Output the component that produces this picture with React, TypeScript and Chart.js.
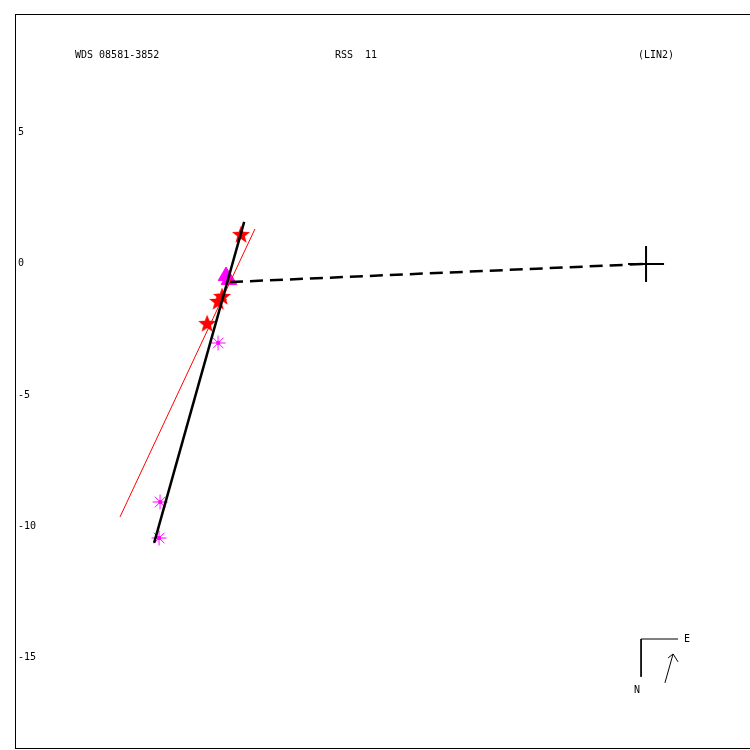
import React, { useEffect, useRef } from "react";
import { Chart, registerables } from "chart.js";

Chart.register(...registerables);

// Header texts
const headerTexts = ["WDS 08581-3852", "RSS  11", "(LIN2)"];

// Axis ranges (arcsec)
const xRange = [-24.04, 3.96];
const yRange = [-18.48, 9.52];
const yTickValues = [5, 0, -5, -10, -15];

// Observations: red stars
const starX = [-15.43, -16.15, -16.3, -16.72];
const starY = [1.1, -1.26, -1.45, -2.29];
// Observations: magenta triangles
const triX = [-16.0, -15.89];
const triY = [-0.46, -0.61];
// Observations: magenta asterisks
const astX = [-16.3, -18.51, -18.55];
const astY = [-3.01, -9.07, -10.44];

// Linear fit (black)
const fitX = [-15.31, -18.74];
const fitY = [1.6, -10.63];
// Previous solution (red thin)
const prevX = [-14.9, -20.04];
const prevY = [1.33, -9.64];
// Closest approach to primary (dashed)
const dashX = [-15.85, 0];
const dashY = [-0.69, 0];
// Primary
const primX = [0];
const primY = [0];

// Compass
const compassX = [1.22, -0.19, -0.19];
const compassY = [-14.29, -14.29, -15.73];
const arrowX = [0.72, 1.03];
const arrowY = [-15.96, -14.86];
const arrowHeadX = [0.84, 1.03, 1.22];
const arrowHeadY = [-15.01, -14.86, -15.16];
const compassLabels = ["E", "N"];
const compassLabelX = [1.56, -0.34];
const compassLabelY = [-14.29, -16.23];

const pts = (xs: number[], ys: number[]) => xs.map((x, i) => ({ x, y: ys[i] }));

function makeStar(): HTMLCanvasElement {
  const c = document.createElement("canvas");
  c.width = 20;
  c.height = 20;
  const ctx = c.getContext("2d")!;
  ctx.fillStyle = "#ff0000";
  ctx.beginPath();
  const R = 9.5, r = 4;
  for (let i = 0; i < 10; i++) {
    const a = -Math.PI / 2 + (i * Math.PI) / 5;
    const rr = i % 2 === 0 ? R : r;
    const px = 10 + rr * Math.cos(a);
    const py = 10 + rr * Math.sin(a);
    if (i === 0) ctx.moveTo(px, py);
    else ctx.lineTo(px, py);
  }
  ctx.closePath();
  ctx.fill();
  return c;
}

function makeAsterisk(): HTMLCanvasElement {
  const c = document.createElement("canvas");
  c.width = 18;
  c.height = 18;
  const ctx = c.getContext("2d")!;
  ctx.strokeStyle = "#ff00ff";
  ctx.fillStyle = "#ff00ff";
  ctx.lineWidth = 1;
  for (let i = 0; i < 4; i++) {
    const a = (i * Math.PI) / 4;
    ctx.beginPath();
    ctx.moveTo(9 - 7.5 * Math.cos(a), 9 - 7.5 * Math.sin(a));
    ctx.lineTo(9 + 7.5 * Math.cos(a), 9 + 7.5 * Math.sin(a));
    ctx.stroke();
  }
  ctx.beginPath();
  ctx.arc(9, 9, 2, 0, Math.PI * 2);
  ctx.fill();
  return c;
}

const FONT = '10px "DejaVu Sans Mono", monospace';

const overlayPlugin = {
  id: "overlay",
  afterDraw(chart: any) {
    const { ctx, chartArea, scales } = chart;
    ctx.save();
    // frame
    ctx.strokeStyle = "#000";
    ctx.lineWidth = 1;
    ctx.strokeRect(
      chartArea.left + 0.5,
      chartArea.top + 0.5,
      chartArea.right - chartArea.left,
      chartArea.bottom - chartArea.top - 1
    );
    ctx.fillStyle = "#000";
    ctx.font = FONT;
    ctx.textBaseline = "middle";
    ctx.textAlign = "left";
    const hx = [75, 335, 638];
    headerTexts.forEach((t, i) => ctx.fillText(t, hx[i], 55));
    ctx.textAlign = "center";
    compassLabels.forEach((t, i) => {
      ctx.fillText(
        t,
        scales.x.getPixelForValue(compassLabelX[i]),
        scales.y.getPixelForValue(compassLabelY[i])
      );
    });
    ctx.restore();
  },
};

export default function App() {
  const ref = useRef<HTMLCanvasElement>(null);
  useEffect(() => {
    const starImg = makeStar();
    const astImg = makeAsterisk();
    const lineDs = (data: any, color: string, width: number, order: number, dash: number[] = []) => ({
      type: "line" as const,
      data,
      borderColor: color,
      borderWidth: width,
      borderDash: dash,
      pointRadius: 0,
      showLine: true,
      fill: false,
      tension: 0,
      order,
    });
    const chart = new Chart(ref.current!, {
      type: "scatter",
      data: {
        datasets: [
          lineDs(pts(fitX, fitY), "#000000", 2.5, 1),
          lineDs(pts(prevX, prevY), "#ff0000", 1, 2),
          lineDs(pts(dashX, dashY), "#000000", 2.5, 3, [13, 7]),
          {
            data: pts(primX, primY),
            pointStyle: "cross",
            pointRadius: 18,
            borderColor: "#000",
            borderWidth: 2,
            order: 4,
          } as any,
          {
            data: pts(triX, triY),
            pointStyle: "triangle",
            pointRadius: 9,
            backgroundColor: "#ff00ff",
            borderColor: "#ff00ff",
            borderWidth: 1,
            order: 5,
          },
          {
            data: pts(starX, starY),
            pointStyle: starImg,
            order: 6,
          } as any,
          {
            data: pts(astX, astY),
            pointStyle: astImg,
            order: 7,
          } as any,
          lineDs(pts(compassX, compassY), "#000000", 1, 8),
          lineDs(pts(arrowX, arrowY), "#000000", 1, 9),
          lineDs(pts(arrowHeadX, arrowHeadY), "#000000", 1, 10),
        ],
      },
      options: {
        animation: false,
        responsive: false,
        events: [],
        layout: { autoPadding: false, padding: { left: 15, top: 14, right: 0, bottom: 1 } },
        plugins: {
          legend: { display: false },
          tooltip: { enabled: false },
          title: { display: false },
        },
        scales: {
          x: {
            type: "linear",
            min: xRange[0],
            max: xRange[1],
            display: false,
          },
          y: {
            type: "linear",
            min: yRange[0],
            max: yRange[1],
            position: "left",
            grid: { display: false },
            border: { display: false },
            afterFit: (scale: any) => {
              scale.width = 0;
              scale.paddingTop = 0;
              scale.paddingBottom = 0;
            },
            afterBuildTicks: (scale: any) => {
              scale.ticks = yTickValues.map((v) => ({ value: v }));
            },
            ticks: {
              mirror: true,
              padding: 3,
              color: "#000",
              font: { family: '"DejaVu Sans Mono", monospace', size: 10 },
              callback: (v: any) => String(v),
            },
          },
        },
      },
      plugins: [overlayPlugin],
    });
    return () => chart.destroy();
  }, []);
  return (
    <div style={{ position: "absolute", left: 0, top: 0, width: 750, height: 750, background: "#fff" }}>
      <canvas ref={ref} width={750} height={750} />
    </div>
  );
}
